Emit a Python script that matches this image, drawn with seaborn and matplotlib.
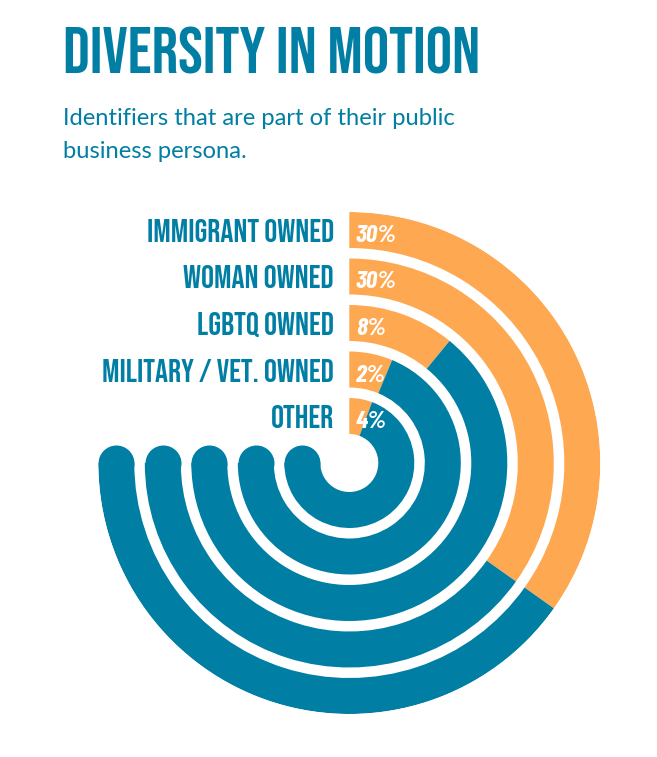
import numpy as np
import pandas as pd
import matplotlib
matplotlib.use("Agg")
import matplotlib.pyplot as plt
from matplotlib import font_manager as fm
from matplotlib.textpath import TextPath
import seaborn as sns

# ---- data (top ring first) ----
categories = ["IMMIGRANT OWNED", "WOMAN OWNED", "LGBTQ OWNED", "MILITARY / VET. OWNED", "OTHER"]
percent_labels = ["30%", "30%", "8%", "2%", "4%"]
# orange arc extent as drawn in the picture (degrees clockwise from 12 o'clock)
orange_sweep_deg = [125.4, 125.4, 39.4, 22.6, 20.5]
total_sweep_deg = 270

title = "DIVERSITY IN MOTION"
subtitle = ["Identifiers that are part of their public", "business persona."]

BLUE = "#007EA3"
ORANGE = "#FEA952"

sns.set_theme(style="white")
plt.rcParams["font.family"] = ["DejaVu Sans"]

AVAIL = {f.name for f in fm.fontManager.ttflist}


def pick(options):
    for name, weight, style in options:
        if name in AVAIL:
            return fm.FontProperties(family=[name, "DejaVu Sans"], weight=weight, style=style)
    return fm.FontProperties(family=["DejaVu Sans"], weight="bold", style=options[0][2])


fp_head = pick([("Bebas Neue", "normal", "normal"), ("Oswald", "bold", "normal"),
                ("Barlow Condensed", "bold", "normal")])
fp_pct = pick([("Barlow Condensed", "bold", "italic"), ("Asap Condensed", "bold", "italic")])
fp_sub = pick([("Lato", "normal", "normal"), ("Open Sans", "normal", "normal")])


def ink(s, fp):
    return TextPath((0, 0), s, size=100, prop=fp).get_extents()


def fit_size(s, fp, w_px, h_px, wt=0.5):
    e = ink(s, fp)
    fw = 72 * w_px / e.width
    fh = 72 * h_px / e.height
    return float(np.exp(wt * np.log(fw) + (1 - wt) * np.log(fh)))


W, H = 657, 757
fig = plt.figure(figsize=(W / 100, H / 100), dpi=100)
fig.patch.set_facecolor("white")

# polar axes centred at pixel (349.3, 463) with outer radius 251 px
cx, cy, R = 349.3, 463.0, 251.0
ax = fig.add_axes([(cx - R) / W, (H - cy - R) / H, 2 * R / W, 2 * R / H], projection="polar")
ax.set_theta_zero_location("N")
ax.set_theta_direction(-1)

n = len(categories)
thick = 36.0
pitch = 46.5
r_inner = [29.0 + pitch * (n - 1 - i) for i in range(n)]  # top label -> outermost ring

df = pd.DataFrame({
    "category": categories,
    "label": percent_labels,
    "orange": np.deg2rad(orange_sweep_deg),
    "r0": r_inner,
})
df["blue"] = np.deg2rad(total_sweep_deg) - df["orange"]
df["rmid"] = df["r0"] + thick / 2

ax.bar(x=np.zeros(n), width=df["orange"], bottom=df["r0"], height=thick,
       align="edge", color=ORANGE, edgecolor="none", linewidth=0)
ax.bar(x=df["orange"], width=df["blue"], bottom=df["r0"], height=thick,
       align="edge", color=BLUE, edgecolor="none", linewidth=0)

# rounded ends at 9 o'clock
cap = pd.DataFrame({"theta": np.full(n, np.deg2rad(total_sweep_deg)), "r": df["rmid"]})
sns.scatterplot(data=cap, x="theta", y="r", ax=ax, s=(thick * 0.72) ** 2,
                color=BLUE, linewidth=0, legend=False, marker="o")
ax.set_ylim(0, R)
ax.axis("off")

# category labels and percentages
fs_lab = fit_size(categories[0], fp_head, 192, 20.6, wt=0.75)
fs_pct = fit_size(percent_labels[0], fp_pct, 36, 20.0, wt=0.5)
for _, row in df.iterrows():
    ax.annotate(row["category"], xy=(0, row["rmid"]), xytext=(-15.3 * 0.72, -12.0 * 0.72),
                textcoords="offset points", ha="right", va="baseline",
                fontproperties=fp_head, fontsize=fs_lab, color=BLUE)
    ax.annotate(row["label"], xy=(0, row["rmid"]), xytext=(6.5 * 0.72, -12.0 * 0.72),
                textcoords="offset points", ha="left", va="baseline",
                fontproperties=fp_pct, fontsize=fs_pct, color="white")

# title
fs_t = fit_size(title, fp_head, 429, 43, wt=0.7)
et = ink(title, fp_head)
x_t = 66 - et.x0 * fs_t / 72
fig.text(x_t / W, 1 - 73 / H, title, ha="left", va="baseline",
         fontproperties=fp_head, fontsize=fs_t, color=BLUE)

# subtitle
fs_s = fit_size(subtitle[0], fp_sub, 403, 17.7, wt=0.85)
es = ink(subtitle[0], fp_sub)
x_s = 65 - es.x0 * fs_s / 72
for i, line in enumerate(subtitle):
    fig.text(x_s / W, 1 - (125 + 33.3 * i) / H, line, ha="left", va="baseline",
             fontproperties=fp_sub, fontsize=fs_s, color=BLUE)

fig.savefig("out.png", dpi=100, facecolor="white")
